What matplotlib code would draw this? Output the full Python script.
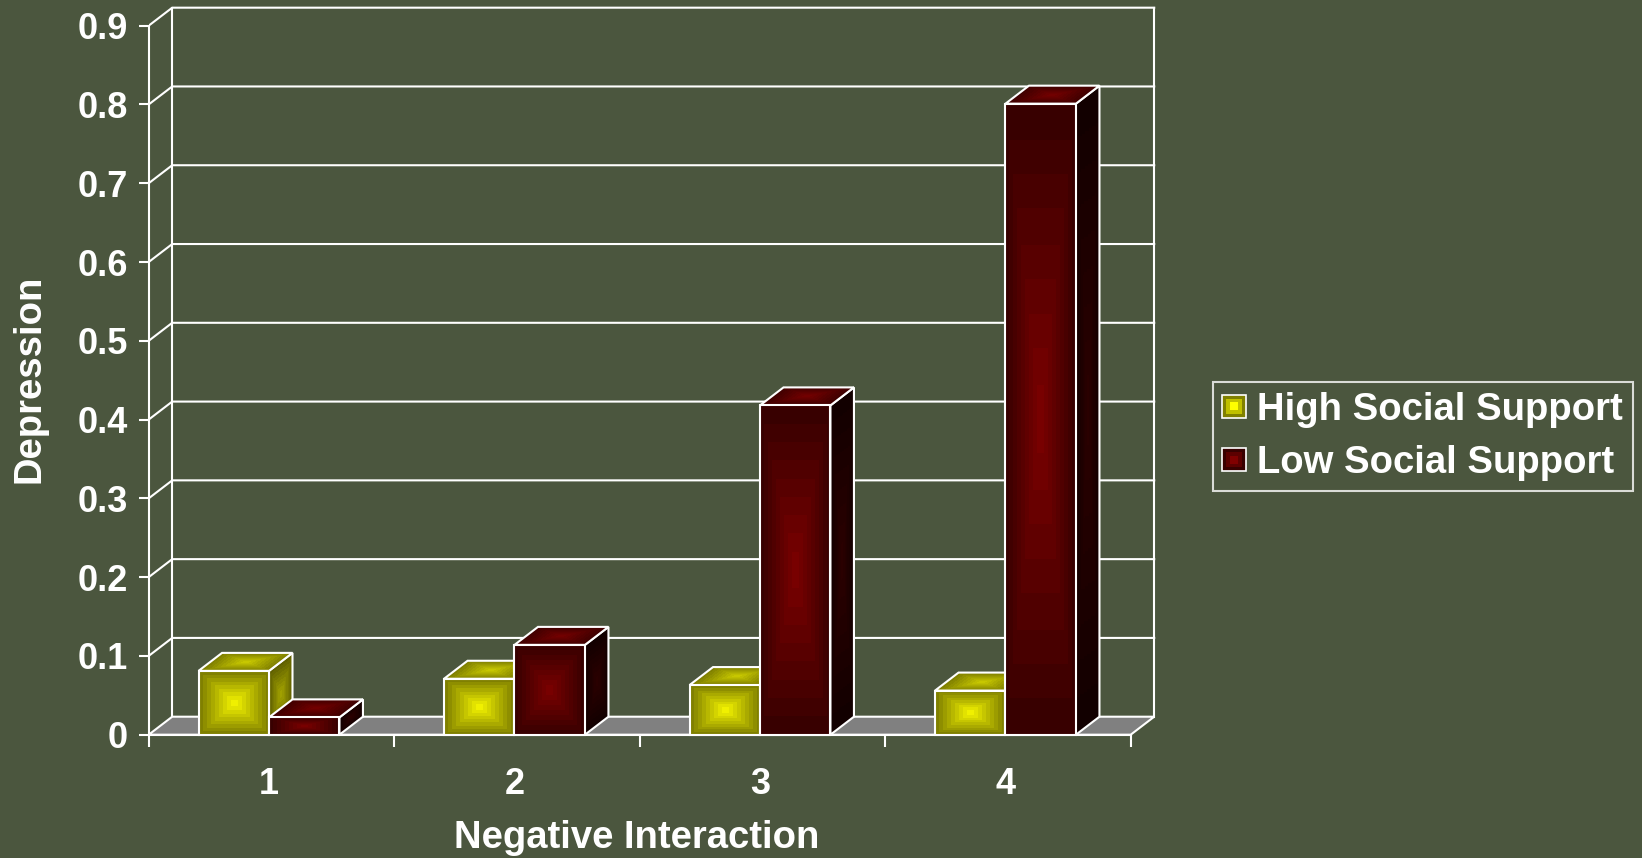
import numpy as np
import matplotlib.pyplot as plt
from matplotlib.patches import Polygon, Rectangle
from matplotlib.legend_handler import HandlerBase
from matplotlib.colors import to_rgb

# --- Data ---
categories = ['1', '2', '3', '4']
high_support = [0.081, 0.071, 0.063, 0.056]
low_support = [0.022, 0.114, 0.418, 0.801]
series_names = ['High Social Support', 'Low Social Support']
y_ticks = [0, 0.1, 0.2, 0.3, 0.4, 0.5, 0.6, 0.7, 0.8, 0.9]
y_tick_labels = ['0', '0.1', '0.2', '0.3', '0.4', '0.5', '0.6', '0.7', '0.8', '0.9']
x_label = 'Negative Interaction'
y_label = 'Depression'

# --- Layout (pixels) ---
W, H = 1642, 858
AX_LEFT_PX = 148.7
AX_ZERO_PX = 734.7          # y of the value 0 measured from the top
PX_PER_CAT = 245.5
PX_PER_UNIT = 787.8
DEPTH_X_PX, DEPTH_Y_PX = 23.5, 18.0
dx = DEPTH_X_PX / PX_PER_CAT
dy = DEPTH_Y_PX / PX_PER_UNIT
XLIM = (0.5, 4.65)
YLIM = (0, 0.93)
BAR_W = 0.287
GROUP_SHIFT = -0.01          # bar pairs and labels sit a touch left of centre

BG = '#4b563e'
FLOOR = '#808080'
EDGE = 'white'
LW = 1.5

# face colours: (centre, edge)
YELLOW = {'front': ('#ffff00', '#808000'), 'top': ('#d0d000', '#808000'), 'side': ('#a8a800', '#606000')}
RED = {'front': ('#800000', '#380000'), 'top': ('#780000', '#400000'), 'side': ('#2e0000', '#120000')}

plt.rcParams['font.family'] = ['Liberation Sans', 'DejaVu Sans']
plt.rcParams['font.weight'] = 'bold'
plt.rcParams['axes.labelweight'] = 'bold'

fig = plt.figure(figsize=(W / 100, H / 100), dpi=100)
fig.patch.set_facecolor(BG)
ax_w = (XLIM[1] - XLIM[0]) * PX_PER_CAT
ax_h = (YLIM[1] - YLIM[0]) * PX_PER_UNIT
ax = fig.add_axes([AX_LEFT_PX / W, (H - AX_ZERO_PX) / H, ax_w / W, ax_h / H])
ax.set_facecolor('none')

zc = [3.0]


def shade_face(origin, e1, e2, colors, levels=9, res=240):
    """Parallelogram face filled with a stepped 'from centre' gradient."""
    P = np.asarray(origin, float)
    E1 = np.asarray(e1, float)
    E2 = np.asarray(e2, float)
    corners = np.array([P, P + E1, P + E1 + E2, P + E2])
    xmin, ymin = corners.min(axis=0)
    xmax, ymax = corners.max(axis=0)
    X, Y = np.meshgrid(np.linspace(xmin, xmax, res), np.linspace(ymin, ymax, res))
    inv = np.linalg.inv(np.column_stack([E1, E2]))
    u = inv[0, 0] * (X - P[0]) + inv[0, 1] * (Y - P[1])
    v = inv[1, 0] * (X - P[0]) + inv[1, 1] * (Y - P[1])
    t = np.clip(np.maximum(np.abs(2 * u - 1), np.abs(2 * v - 1)), 0, 1)
    t = np.ceil(t * levels) / levels
    c0 = np.array(to_rgb(colors[0]))
    c1 = np.array(to_rgb(colors[1]))
    rgb = c0 + (c1 - c0) * t[..., None]
    im = ax.imshow(rgb, extent=[xmin, xmax, ymin, ymax], origin='lower',
                   aspect='auto', interpolation='nearest', zorder=zc[0])
    outline = Polygon(corners, closed=True, fc='none', ec=EDGE, lw=LW,
                      joinstyle='miter', zorder=zc[0] + 0.5, clip_on=False)
    ax.add_patch(outline)
    im.set_clip_path(outline)
    zc[0] += 1


def bar3d(x0, h, scheme):
    shade_face((x0 + BAR_W, 0), (dx, dy), (0, h), scheme['side'])
    shade_face((x0, h), (BAR_W, 0), (dx, dy), scheme['top'])
    shade_face((x0, 0), (BAR_W, 0), (0, h), scheme['front'])


# back wall grid and side diagonals
x_lo, x_hi = 0.5, 4.5
for y in y_ticks[1:]:
    ax.plot([x_lo, x_lo + dx, x_hi + dx], [y, y + dy, y + dy], color=EDGE, lw=LW, zorder=1)
for xb in (x_lo + dx, x_hi + dx):
    ax.plot([xb, xb], [dy, y_ticks[-1] + dy], color=EDGE, lw=LW, zorder=1)

# floor
ax.add_patch(Polygon([(x_lo, 0), (x_hi, 0), (x_hi + dx, dy), (x_lo + dx, dy)],
                     closed=True, fc=FLOOR, ec=EDGE, lw=LW, zorder=2, clip_on=False))

# bars
positions = np.arange(1, len(categories) + 1)
for pos, hi, lo in zip(positions, high_support, low_support):
    bar3d(pos + GROUP_SHIFT - BAR_W, hi, YELLOW)
    bar3d(pos + GROUP_SHIFT, lo, RED)

ax.set_xlim(*XLIM)
ax.set_ylim(*YLIM)

for side in ('top', 'right'):
    ax.spines[side].set_visible(False)
ax.spines['left'].set_bounds(0, y_ticks[-1])
ax.spines['bottom'].set_bounds(x_lo, x_hi)
for side in ('left', 'bottom'):
    ax.spines[side].set_color(EDGE)
    ax.spines[side].set_linewidth(LW)
    ax.spines[side].set_zorder(2.5)

ax.set_yticks(y_ticks, y_tick_labels)
ax.tick_params(axis='y', direction='out', length=7.2, width=LW, color=EDGE,
               pad=8, labelsize=26, labelcolor='white')
ax.set_xticks(np.arange(0.5, len(categories) + 1, 1.0))
ax.set_xticklabels([])
ax.set_xticks(positions + GROUP_SHIFT, categories, minor=True)
ax.tick_params(axis='x', which='major', direction='out', length=8.6, width=LW, color=EDGE)
ax.tick_params(axis='x', which='minor', length=0, pad=23, labelsize=26, labelcolor='white')

ax.set_xlabel(x_label, fontsize=27.5, color='white', va='center')
ax.xaxis.set_label_coords((637 - AX_LEFT_PX) / ax_w, (AX_ZERO_PX - 838) / ax_h)
ax.set_ylabel(y_label, fontsize=27.5, color='white', va='center')
ax.yaxis.set_label_coords((29 - AX_LEFT_PX) / ax_w, (AX_ZERO_PX - 379) / ax_h)


class GradientSquare(HandlerBase):
    def __init__(self, colors, steps=3):
        super().__init__()
        self.c0 = np.array(to_rgb(colors[0]))
        self.c1 = np.array(to_rgb(colors[1]))
        self.steps = steps

    def create_artists(self, legend, orig_handle, xdescent, ydescent,
                       width, height, fontsize, trans):
        side = min(width, height)
        x0 = -xdescent + (width - side) / 2
        y0 = -ydescent + (height - side) / 2
        arts = []
        for i in range(self.steps):
            inset = side * i / (2 * self.steps)
            col = self.c1 + (self.c0 - self.c1) * i / (self.steps - 1)
            arts.append(Rectangle((x0 + inset, y0 + inset), side - 2 * inset, side - 2 * inset,
                                  fc=col, ec=EDGE if i == 0 else 'none',
                                  lw=1.2 if i == 0 else 0, transform=trans))
        return arts


h_high = Rectangle((0, 0), 1, 1)
h_low = Rectangle((0, 0), 1, 1)
leg = fig.legend([h_high, h_low], series_names,
                 handler_map={h_high: GradientSquare(YELLOW['front']),
                              h_low: GradientSquare(RED['front'])},
                 loc='upper left', bbox_to_anchor=(1212.7 / W, 1 - 382.3 / H),
                 borderaxespad=0, fontsize=27.5, labelcolor='white',
                 handlelength=0.62, handleheight=0.62, handletextpad=0.3,
                 borderpad=0.25, labelspacing=0.45, fancybox=False,
                 facecolor='none', edgecolor=EDGE, framealpha=None)
leg.get_frame().set_linewidth(LW)

fig.savefig('out.png', dpi=100, facecolor=BG)
